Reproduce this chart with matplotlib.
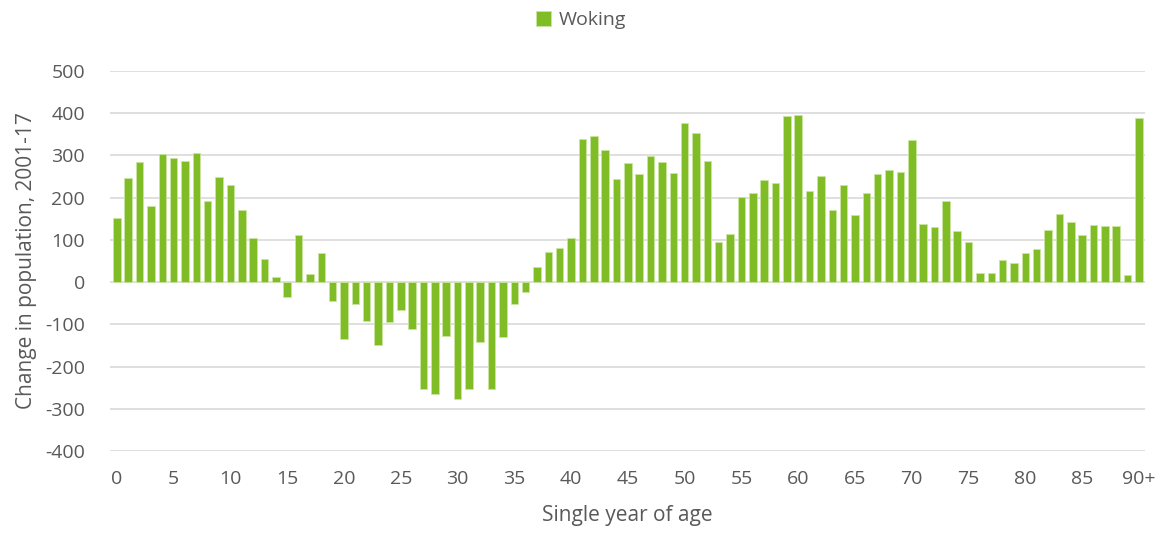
import matplotlib.pyplot as plt

# change in population by single year of age, 2001-17
ages = list(range(91))
age_labels = [str(a) if a % 5 == 0 else '' for a in ages]
age_labels[90] = '90+'
woking = [152, 247, 285, 181, 304, 293, 288, 306, 193, 250,
          230, 170, 105, 55, 12, -35, 111, 20, 68, -45,
          -135, -53, -93, -148, -95, -65, -112, -252, -265, -128,
          -278, -252, -143, -252, -130, -53, -23, 36, 71, 81,
          105, 339, 346, 314, 245, 283, 256, 298, 284, 259,
          377, 353, 287, 96, 114, 202, 212, 243, 235, 394,
          396, 215, 251, 170, 231, 160, 211, 257, 265, 262,
          337, 137, 131, 192, 121, 96, 22, 22, 53, 46,
          68, 79, 123, 161, 143, 111, 136, 132, 134, 17,
          388]

plt.rcParams['font.family'] = ['Open Sans', 'DejaVu Sans']
plt.rcParams['axes.unicode_minus'] = False
text_color = '#595959'

fig = plt.figure(figsize=(11.62, 5.38), dpi=100)
ax = fig.add_axes([0.0947, 0.1617, 0.8903, 0.7063])

ax.bar(ages, woking, width=0.66, color='#80BC25', edgecolor='#C9E5A0',
       linewidth=0.6, label='Woking', zorder=3)

ax.set_ylim(-400, 500)
ax.set_yticks(range(-400, 501, 100))
ax.set_xlim(-0.6, 90.5)
ax.set_xticks(ages)
ax.set_xticklabels(age_labels)
ax.tick_params(length=0, labelsize=14, labelcolor=text_color)
ax.tick_params(axis='y', pad=18)
ax.tick_params(axis='x', pad=14)
ax.grid(axis='y', color='#D9D9D9', linewidth=1.2, zorder=0)
for s in ax.spines.values():
    s.set_visible(False)

ax.set_xlabel('Single year of age', fontsize=15, color=text_color, labelpad=12)
ax.set_ylabel('Change in population, 2001-17', fontsize=15, color=text_color, labelpad=6)

fig.legend(loc='upper center', bbox_to_anchor=(0.5, 1.012), frameon=False,
           fontsize=14, labelcolor=text_color, handlelength=0.8, handleheight=0.8,
           handletextpad=0.4)

fig.savefig('out.png', dpi=100)
